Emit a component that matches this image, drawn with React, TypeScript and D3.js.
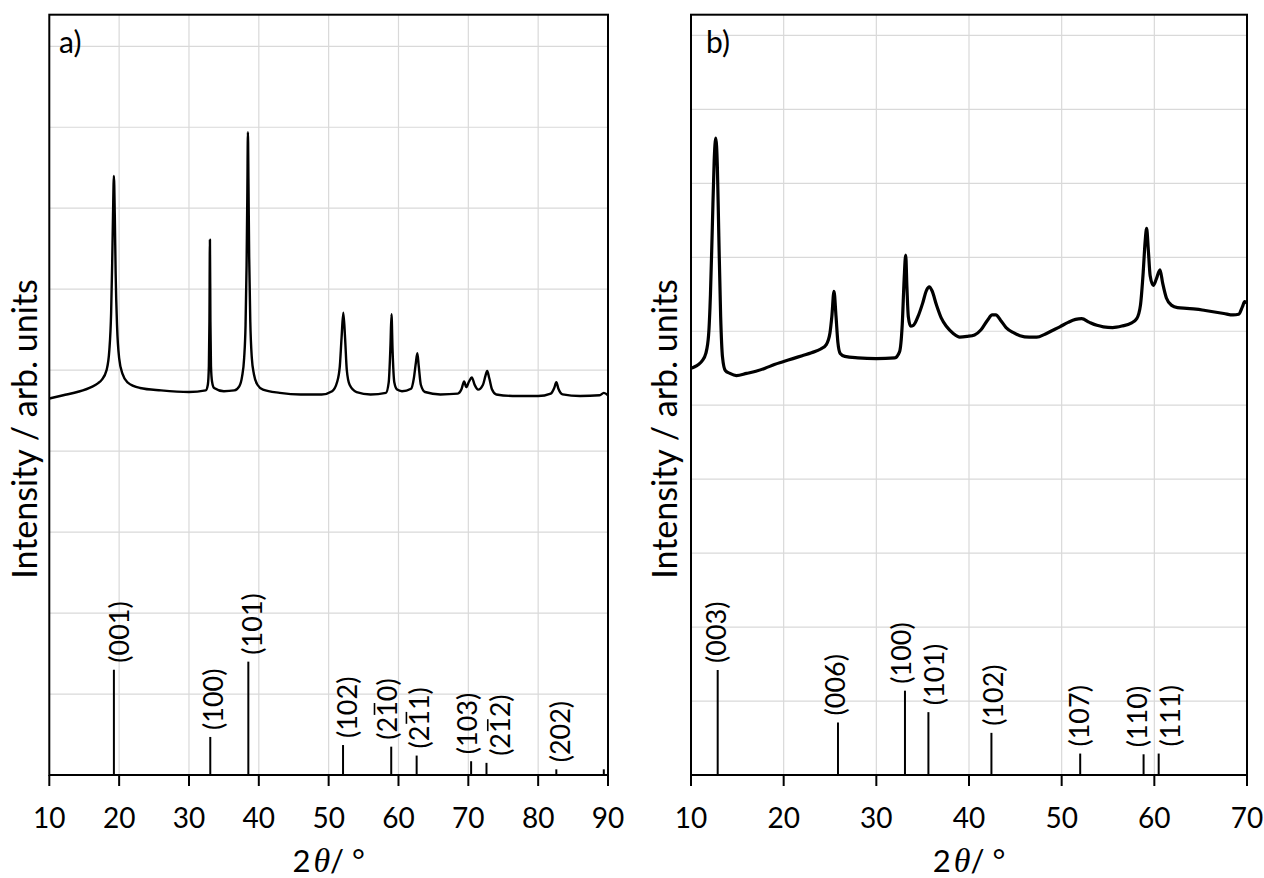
import React, { useLayoutEffect, useRef, useState } from 'react';
import * as d3 from 'd3';

// ---------- Panel a) data ----------
const scanA_2theta = [
  10, 12, 14, 16, 17, 17.5, 18.2, 18.6, 18.85, 19.0, 19.12, 19.25, 19.38, 19.5, 19.7, 20.0, 20.5, 21.2,
  23, 26, 30, 32.4, 32.7, 32.85, 32.93, 33.0, 33.07, 33.15, 33.3, 33.6, 35, 36.5, 37.2, 37.6, 37.9, 38.1,
  38.25, 38.36, 38.44, 38.52, 38.62, 38.78, 39.0, 39.3, 39.8, 40.6, 43, 46, 49, 50.5, 51.2, 51.6, 51.85,
  52.1, 52.35, 52.6, 53.0, 54, 56, 58.2, 58.6, 58.85, 59.0, 59.15, 59.4, 59.8, 60.5, 61.8, 62.2, 62.5,
  62.7, 62.9, 63.2, 63.8, 66, 68.5, 69.0, 69.4, 69.7, 70.1, 70.5, 70.9, 71.4, 72.1, 72.45, 72.7, 73.0,
  73.4, 74, 77, 80, 81.8, 82.3, 82.6, 82.9, 83.5, 86, 88.8, 89.4, 90,
];
const scanA_int = [
  4.65, 4.69, 4.73, 4.79, 4.84, 4.88, 5.0, 5.25, 5.7, 6.3, 6.9, 7.4, 6.9, 6.2, 5.55, 5.15, 4.95, 4.85,
  4.78, 4.75, 4.73, 4.75, 4.82, 5.05, 5.6, 6.61, 5.6, 5.05, 4.86, 4.78, 4.74, 4.75, 4.8, 4.92, 5.15, 5.55,
  6.3, 7.2, 7.94, 7.3, 6.4, 5.6, 5.15, 4.95, 4.82, 4.76, 4.72, 4.7, 4.7, 4.74, 4.85, 5.05, 5.4,
  5.71, 5.4, 5.0, 4.82, 4.73, 4.7, 4.72, 4.85, 5.3, 5.69, 5.25, 4.85, 4.76, 4.74, 4.77, 4.9, 5.1,
  5.21, 5.05, 4.82, 4.73, 4.7, 4.71, 4.76, 4.86, 4.79, 4.86, 4.91, 4.82, 4.76, 4.82, 4.93, 4.99, 4.9,
  4.76, 4.7, 4.68, 4.68, 4.71, 4.78, 4.85, 4.77, 4.7, 4.68, 4.69, 4.72, 4.69,
];
const refA_2theta = [19.25, 33.05, 38.5, 52.06, 58.96, 62.6, 70.4, 72.6, 82.6, 89.4];
const refA_int = [1.3, 0.47, 1.4, 0.37, 0.35, 0.24, 0.17, 0.15, 0.07, 0.07];
const refA_hkl = ['(001)', '(100)', '(101)', '(102)', '(2{1}0)', '(2{1}1)', '(103)', '(2{1}2)', '(202)', ''];
const refA_labelShift = [5, 3, 4, 4.5, -4, 2.5, -3.5, 14, 3.5, 0];
const xTicksA = [10, 20, 30, 40, 50, 60, 70, 80, 90];
const yGridA = [1, 2, 3, 4, 5, 6, 7, 8, 9];

// ---------- Panel b) data ----------
const scanB_2theta = [
  10, 10.4, 10.8, 11.2, 11.6, 11.9, 12.1, 12.3, 12.5, 12.67, 12.85, 13.0, 13.2, 13.4, 13.7, 14.2, 14.9,
  16, 17, 18, 19, 20, 21, 22, 23, 24, 24.6, 25.0, 25.2, 25.43, 25.65, 25.85, 26.1, 26.6, 28, 30, 32.0,
  32.5, 32.8, 33.0, 33.17, 33.3, 33.45, 33.7, 34.0, 34.5, 35.0, 35.4, 35.72, 36.0, 36.5, 37.0, 37.6,
  38.3, 39.0, 39.8, 40.6, 41.3, 42.0, 42.5, 42.9, 43.4, 44.0, 44.8, 45.5, 46.5, 47.3, 48.2, 49.0, 49.8,
  50.7, 51.5, 52.16, 53.0, 53.8, 54.5, 55.5, 56.5, 57.5, 58.1, 58.5, 58.8, 59.0, 59.17, 59.35, 59.55,
  59.89, 60.2, 60.61, 60.9, 61.3, 61.87, 62.5, 63.5, 64.5, 65.5, 66.5, 67.5, 68.5, 69.1, 69.5, 69.75, 70,
];
const scanB_int = [
  5.5, 5.52, 5.55, 5.6, 5.7, 5.95, 6.5, 7.4, 8.3, 8.61, 8.2, 7.3, 6.2, 5.65, 5.47, 5.43, 5.4,
  5.43, 5.46, 5.5, 5.55, 5.59, 5.63, 5.67, 5.71, 5.76, 5.82, 5.98, 6.2, 6.54, 6.2, 5.85, 5.7, 5.66, 5.64, 5.63, 5.64,
  5.72, 6.1, 6.7, 7.03, 6.6, 6.2, 6.07, 6.08, 6.2, 6.38, 6.55, 6.6, 6.55, 6.35, 6.18, 6.06,
  5.97, 5.92, 5.93, 5.95, 6.02, 6.15, 6.22, 6.22, 6.15, 6.05, 5.98, 5.94, 5.92, 5.92, 5.96, 6.01, 6.06,
  6.12, 6.16, 6.17, 6.12, 6.08, 6.06, 6.05, 6.07, 6.11, 6.17, 6.35, 6.8, 7.2, 7.39, 7.1, 6.75,
  6.62, 6.7, 6.83, 6.65, 6.45, 6.35, 6.32, 6.31, 6.3, 6.28, 6.26, 6.24, 6.22, 6.23, 6.33, 6.4, 6.38,
];
const refB_2theta = [12.88, 25.86, 33.09, 35.62, 42.42, 52.0, 58.84, 60.47];
const refB_int = [1.42, 0.71, 1.14, 0.85, 0.57, 0.29, 0.28, 0.29];
const refB_hkl = ['(003)', '(006)', '(100)', '(101)', '(102)', '(107)', '(110)', '(111)'];
const refB_labelShift = [-1.5, -2.5, -4, 6, 2, -1, -6, 12];
const xTicksB = [10, 20, 30, 40, 50, 60, 70];
const yGridB = [1, 2, 3, 4, 5, 6, 7, 8, 9, 10];

const FONT = 'Lato, "Open Sans", sans-serif';
const HKL_SIZE = 27;

type PanelProps = {
  x0: number; x1: number; y0: number; y1: number;
  xDomain: [number, number]; yMax: number;
  xTicks: number[]; yGrid: number[];
  scanX: number[]; scanY: number[]; scanWidth: number;
  refX: number[]; refY: number[]; refLabels: string[]; refShift: number[];
  tag: string; tagX: number;
  yTitleX: number;
};

// label text with {digit} marking an overlined (negative) index
function HklLabel({ raw, tx, ty }: { raw: string; tx: number; ty: number }) {
  const plain = raw.replace(/[{}]/g, '');
  const barIdx: number[] = [];
  let k = 0;
  let inBar = false;
  for (const ch of raw) {
    if (ch === '{') { inBar = true; continue; }
    if (ch === '}') { inBar = false; continue; }
    if (inBar) barIdx.push(k);
    k++;
  }
  const ref = useRef<SVGTextElement>(null);
  const [bars, setBars] = useState<{ a: number; b: number }[]>([]);
  useLayoutEffect(() => {
    const el = ref.current;
    if (!el || barIdx.length === 0) return;
    const out = barIdx.map((i) => {
      const a = el.getSubStringLength(0, i);
      const w = el.getSubStringLength(i, 1);
      return { a: a + w * 0.12, b: a + w * 0.88 };
    });
    setBars(out);
  }, [raw]);
  const base = HKL_SIZE * 0.36;
  const barY = base - HKL_SIZE * 0.72 - 3;
  return (
    <g transform={`translate(${tx},${ty}) rotate(-90)`}>
      <text ref={ref} x={0} y={base} fontFamily={FONT} fontSize={HKL_SIZE} fill="#000">
        {plain}
      </text>
      {bars.map((s, i) => (
        <line key={i} x1={s.a} x2={s.b} y1={barY} y2={barY} stroke="#000" strokeWidth={1.6} />
      ))}
    </g>
  );
}

function Panel(p: PanelProps) {
  const x = d3.scaleLinear().domain(p.xDomain).range([p.x0, p.x1]);
  const y = d3.scaleLinear().domain([0, p.yMax]).range([p.y1, p.y0]);
  const pts: [number, number][] = p.scanX.map((v, i) => [v, p.scanY[i]]);
  const line = d3
    .line<[number, number]>()
    .x((d) => x(d[0]))
    .y((d) => y(d[1]))
    .curve(d3.curveMonotoneX);
  return (
    <g>
      {p.xTicks.slice(1, -1).map((t) => (
        <line key={'gx' + t} x1={x(t)} x2={x(t)} y1={p.y0} y2={p.y1} stroke="#d9d9d9" strokeWidth={1.2} />
      ))}
      {p.yGrid.map((t) => (
        <line key={'gy' + t} x1={p.x0} x2={p.x1} y1={y(t)} y2={y(t)} stroke="#d9d9d9" strokeWidth={1.2} />
      ))}
      {p.refX.map((v, i) => (
        <line key={'r' + i} x1={x(v)} x2={x(v)} y1={y(0)} y2={y(p.refY[i])} stroke="#000" strokeWidth={2} />
      ))}
      {p.refX.map((v, i) =>
        p.refLabels[i] ? (
          <HklLabel key={'rl' + i} raw={p.refLabels[i]} tx={x(v) + p.refShift[i]} ty={y(p.refY[i]) - 7} />
        ) : null
      )}
      <path d={line(pts) || ''} fill="none" stroke="#000" strokeWidth={p.scanWidth} strokeLinejoin="round" />
      <rect x={p.x0} y={p.y0} width={p.x1 - p.x0} height={p.y1 - p.y0} fill="none" stroke="#000" strokeWidth={2} />
      {p.xTicks.map((t) => (
        <g key={'t' + t}>
          <line x1={x(t)} x2={x(t)} y1={p.y1} y2={p.y1 + 11} stroke="#000" strokeWidth={2} />
          <text x={x(t)} y={p.y1 + 53} textAnchor="middle" fontFamily={FONT} fontSize={28} fill="#000">
            {t}
          </text>
        </g>
      ))}
      <text x={(p.x0 + p.x1) / 2} y={872} textAnchor="middle" fontFamily={FONT} fontSize={31} fill="#000">
        <tspan>2</tspan>
        <tspan dx={3} fontFamily='"Liberation Serif", serif' fontStyle="italic" fontSize={34}>θ</tspan>
        <tspan>/ °</tspan>
      </text>
      <text
        transform={`translate(${p.yTitleX},429) rotate(-90)`}
        textAnchor="middle"
        fontFamily={FONT}
        fontSize={34}
        fill="#000"
      >
        Intensity / arb. units
      </text>
      <text x={p.tagX} y={53} fontFamily={FONT} fontSize={30} fill="#000">
        {p.tag}
      </text>
    </g>
  );
}

export default function App() {
  return (
    <svg width={1264} height={878} style={{ position: 'absolute', left: 0, top: 0, background: '#fff' }}>
      <rect x={0} y={0} width={1264} height={878} fill="#fff" />
      <Panel
        x0={49.3} x1={608} y0={14.7} y1={775}
        xDomain={[10, 90]} yMax={9.39}
        xTicks={xTicksA} yGrid={yGridA}
        scanX={scanA_2theta} scanY={scanA_int} scanWidth={2.4}
        refX={refA_2theta} refY={refA_int} refLabels={refA_hkl} refShift={refA_labelShift}
        tag="a)" tagX={59}
        yTitleX={37}
      />
      <Panel
        x0={691} x1={1247} y0={14.7} y1={775}
        xDomain={[10, 70]} yMax={10.28}
        xTicks={xTicksB} yGrid={yGridB}
        scanX={scanB_2theta} scanY={scanB_int} scanWidth={3.2}
        refX={refB_2theta} refY={refB_int} refLabels={refB_hkl} refShift={refB_labelShift}
        tag="b)" tagX={706}
        yTitleX={677}
      />
    </svg>
  );
}
